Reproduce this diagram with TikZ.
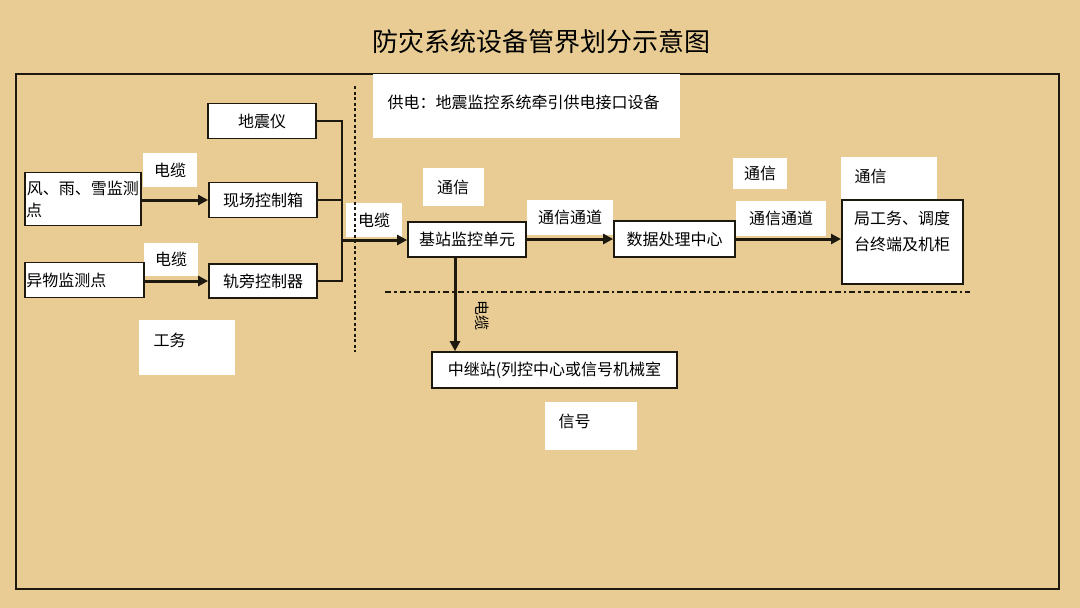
\documentclass[tikz,border=0pt]{standalone}
\usepackage{fontspec}
\setmainfont{Noto Sans CJK SC}
\usetikzlibrary{arrows.meta}
\definecolor{paper}{RGB}{232,204,148}
\definecolor{ink}{RGB}{30,25,15}
\tikzset{
  x=1pt,y=-1pt,
  box/.style={draw=ink,line width=1.7pt,fill=white,inner sep=0pt,font=\fontsize{16}{19}\selectfont},
  lab/.style={fill=white,inner sep=0pt,font=\fontsize{16}{19}\selectfont},
  arr/.style={line width=3pt,draw=ink,-{Triangle[length=10pt,width=10pt]}},
  wire/.style={line width=1.7pt,draw=ink},
}
\begin{document}
\begin{tikzpicture}
\fill[paper] (0,0) rectangle (1080,608);
\useasboundingbox (0,0) rectangle (1080,608);
% title
\node[font=\fontsize{26}{30}\selectfont] (title) at (541,42) {防灾系统设备管界划分示意图};
% frame
\draw[ink,line width=2.4pt] (16,74) rectangle (1059,589);
% white label boxes
\node[lab,minimum width=307pt,minimum height=64pt,anchor=north west] (gd) at (373,74) {};
\node[font=\fontsize{16}{19}\selectfont,anchor=west] (gdt) at (384,102) {供电：地震监控系统牵引供电接口设备};
\node[lab,minimum width=54pt,minimum height=34pt] (l1) at (170,170) {电缆};
\node[lab,minimum width=54pt,minimum height=33pt] (l2) at (171,259) {电缆};
\node[lab,minimum width=96pt,minimum height=55pt,anchor=north west] (gw) at (139,320) {};
\node[font=\fontsize{16}{19}\selectfont,anchor=west] (gwt) at (150,340) {工务};
\node[lab,minimum width=56pt,minimum height=34pt] (l3) at (374,220) {电缆};
\node[lab,minimum width=61pt,minimum height=38pt] (tx1) at (453,187) {通信};
\node[lab,minimum width=86pt,minimum height=35pt] (td1) at (570,217) {通信通道};
\node[lab,minimum width=54pt,minimum height=31pt] (tx2) at (760,173) {通信};
\node[lab,minimum width=90pt,minimum height=35pt] (td2) at (781,218) {通信通道};
\node[lab,minimum width=96pt,minimum height=43pt,anchor=north west] (tx3) at (841,157) {};
\node[font=\fontsize{16}{19}\selectfont,anchor=west] (tx3t) at (851,176) {通信};
\node[lab,minimum width=92pt,minimum height=48pt] (xh) at (591,426) {};
\node[font=\fontsize{16}{19}\selectfont,anchor=west] (xht) at (555,421) {信号};
% boxes
\node[box,minimum width=108pt,minimum height=35pt] (dzy) at (262,121) {地震仪};
\node[box,minimum width=116pt,minimum height=53pt,text width=114pt,align=left,font=\fontsize{16}{22}\selectfont] (fyx) at (83,199) {\hspace*{1pt}风、雨、雪监测\\点};
\node[box,minimum width=108pt,minimum height=35pt] (xc) at (263,200) {现场控制箱};
\node[box,minimum width=119pt,minimum height=35pt,text width=116pt,align=left] (yw) at (84.5,280) {异物监测点};
\node[box,minimum width=108pt,minimum height=34pt] (gp) at (263,281) {轨旁控制器};
\node[box,minimum width=118pt,minimum height=35pt] (jz) at (467,239.5) {基站监控单元};
\node[box,minimum width=121pt,minimum height=36pt] (sj) at (674.5,239) {数据处理中心};
\node[box,minimum width=121pt,minimum height=84pt,anchor=north west] (jg) at (841,199) {};
\node[font=\fontsize{16}{26}\selectfont,align=center,anchor=north] (jgt) at (902,207) {局工务、调度\\台终端及机柜};
\node[box,minimum width=245pt,minimum height=36pt] (zj) at (554.5,370) {中继站(列控中心或信号机械室};
% dotted vertical divider
\coordinate (dv1) at (355,86);
\coordinate (dv2) at (355,352);
\draw[ink,line width=2.3pt,dash pattern=on 3pt off 2.5pt] (dv1) -- (dv2);
% dash-dot horizontal divider
\coordinate (dh1) at (385,292);
\coordinate (dh2) at (970,292);
\draw[ink,line width=2.1pt,dash pattern=on 6pt off 3pt on 2.5pt off 3pt] (dh1) -- (dh2);
% bus
\coordinate (bt) at (342,121);
\coordinate (bm) at (342,200);
\coordinate (bb) at (342,281);
\coordinate (bo) at (342,240);
\draw[wire] (dzy.east) -- (bt) -- (bb) -- (gp.east);
\draw[wire] (xc.east) -- (bm);
\draw[arr] (bo) -- (jz.west |- bo);
% arrows
\draw[arr] (fyx.east |- xc) -- (xc.west);
\draw[arr] (yw.east |- gp) -- (gp.west);
\draw[arr] (jz.east |- sj) -- (sj.west);
\draw[arr] (sj.east) -- (jg.west |- sj);
\draw[arr] (jz.south -| 455,0) -- (zj.north -| 455,0);
\node[font=\fontsize{15}{17}\selectfont,rotate=-90] (lv) at (482,315) {电缆};
\end{tikzpicture}
\end{document}
